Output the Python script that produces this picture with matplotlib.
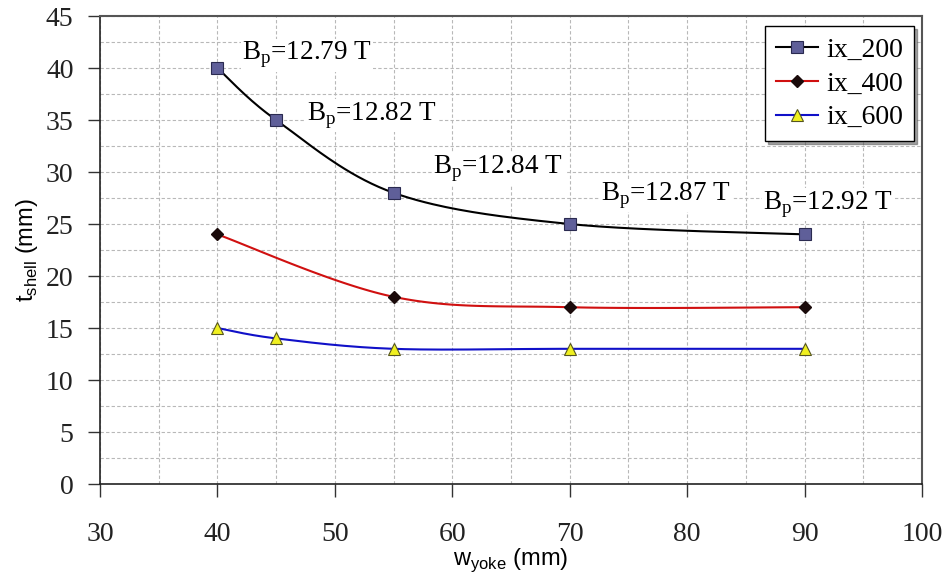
import numpy as np
import matplotlib
matplotlib.use("Agg")
import matplotlib.pyplot as plt
from matplotlib.ticker import MultipleLocator

# ---------------- data ----------------
x_200 = [40, 45, 55, 70, 90]
y_200 = [40, 35, 28, 25, 24]
x_400 = [40, 55, 70, 90]
y_400 = [24, 18, 17, 17]
x_600 = [40, 45, 55, 70, 90]
y_600 = [15, 14, 13, 13, 13]
labels = ["ix_200", "ix_400", "ix_600"]
bp_text = ["12.79", "12.82", "12.84", "12.87", "12.92"]
bp_pos_x = [42.1, 47.6, 58.4, 72.7, 86.5]
bp_pos_y = [40.8, 35.0, 29.9, 27.3, 26.4]


def smooth(xs, ys, n=40):
    """Excel-like smoothed line (Catmull-Rom via cubic Bezier)."""
    xs = np.asarray(xs, float)
    ys = np.asarray(ys, float)
    px = np.concatenate([[xs[0]], xs, [xs[-1]]])
    py = np.concatenate([[ys[0]], ys, [ys[-1]]])
    ox, oy = [], []
    t = np.linspace(0, 1, n)
    for i in range(1, len(px) - 2):
        p0 = np.array([px[i], py[i]])
        p3 = np.array([px[i + 1], py[i + 1]])
        c1 = p0 + (np.array([px[i + 1], py[i + 1]]) - np.array([px[i - 1], py[i - 1]])) / 6
        c2 = p3 - (np.array([px[i + 2], py[i + 2]]) - np.array([px[i], py[i]])) / 6
        b = ((1 - t) ** 3)[:, None] * p0 + (3 * (1 - t) ** 2 * t)[:, None] * c1 \
            + (3 * (1 - t) * t ** 2)[:, None] * c2 + (t ** 3)[:, None] * p3
        ox.extend(b[:, 0])
        oy.extend(b[:, 1])
    return np.array(ox), np.array(oy)


fig = plt.figure(figsize=(9.46, 5.78), dpi=100)
ax = fig.add_axes([0.1057, 0.1626, 0.9746 - 0.1057, 0.9723 - 0.1626])

serif = "Liberation Serif"
sans = "Liberation Sans"

ax.set_xlim(30, 100)
ax.set_ylim(0, 45)
ax.xaxis.set_major_locator(MultipleLocator(10))
ax.xaxis.set_minor_locator(MultipleLocator(5))
ax.yaxis.set_major_locator(MultipleLocator(5))
ax.yaxis.set_minor_locator(MultipleLocator(2.5))
ax.grid(True, which="both", color="#b8b8b8", linestyle=(0, (3, 2)), linewidth=0.8)
ax.set_axisbelow(True)
ax.tick_params(which="minor", length=0)
ax.tick_params(which="major", direction="out", length=9, width=1, colors="#333333",
               labelcolor="#222222")
ax.tick_params(axis="x", pad=18)
ax.tick_params(axis="y", pad=10)
for lab in ax.get_xticklabels() + ax.get_yticklabels():
    lab.set_fontfamily(serif)
    lab.set_fontsize(20)
for s in ["top", "right"]:
    ax.spines[s].set_color("#555555")
    ax.spines[s].set_linewidth(1.5)
for s in ["left", "bottom"]:
    ax.spines[s].set_color("#222222")
    ax.spines[s].set_linewidth(1.2)

series = [
    (x_200, y_200, "black", dict(marker="s", markersize=9, markerfacecolor="#5f5f99",
                                 markeredgecolor="#2a2a50", markeredgewidth=0.8)),
    (x_400, y_400, "#d01010", dict(marker="D", markersize=6, markerfacecolor="#1a0a0a",
                                   markeredgecolor="#1a0a0a")),
    (x_600, y_600, "#1010c8", dict(marker="^", markersize=9, markerfacecolor="#f0f020",
                                   markeredgecolor="#555520", markeredgewidth=0.8)),
]
handles = []
for (xs, ys, col, mk), lab in zip(series, labels):
    sx, sy = smooth(xs, ys)
    ax.plot(sx, sy, color=col, linewidth=1.5, zorder=3)
    ax.plot(xs, ys, linestyle="none", zorder=4, **mk)
    h, = ax.plot([], [], color=col, linewidth=1.5, **mk)
    handles.append(h)

for txt, bx, by in zip(bp_text, bp_pos_x, bp_pos_y):
    ax.text(bx, by, r"B$_\mathregular{p}$=" + txt + " T", fontfamily=serif, fontsize=19.5,
            ha="left", va="baseline", zorder=5,
            bbox=dict(facecolor="white", edgecolor="none", pad=1))

leg = ax.legend(handles, labels, loc="upper right", bbox_to_anchor=(0.997, 0.99),
                prop={"family": serif, "size": 20}, frameon=True, fancybox=False,
                shadow=True, edgecolor="black", handlelength=1.5, handletextpad=0.3,
                borderpad=0.4, labelspacing=0.3, borderaxespad=0.2)
leg.get_frame().set_linewidth(1.0)

ax.set_xlabel(r"w$_\mathregular{yoke}$ (mm)", fontfamily=sans, fontsize=17, labelpad=0)
ax.set_ylabel(r"t$_\mathregular{shell}$ (mm)", fontfamily=sans, fontsize=17, labelpad=4)

fig.savefig("out.png", dpi=100)
